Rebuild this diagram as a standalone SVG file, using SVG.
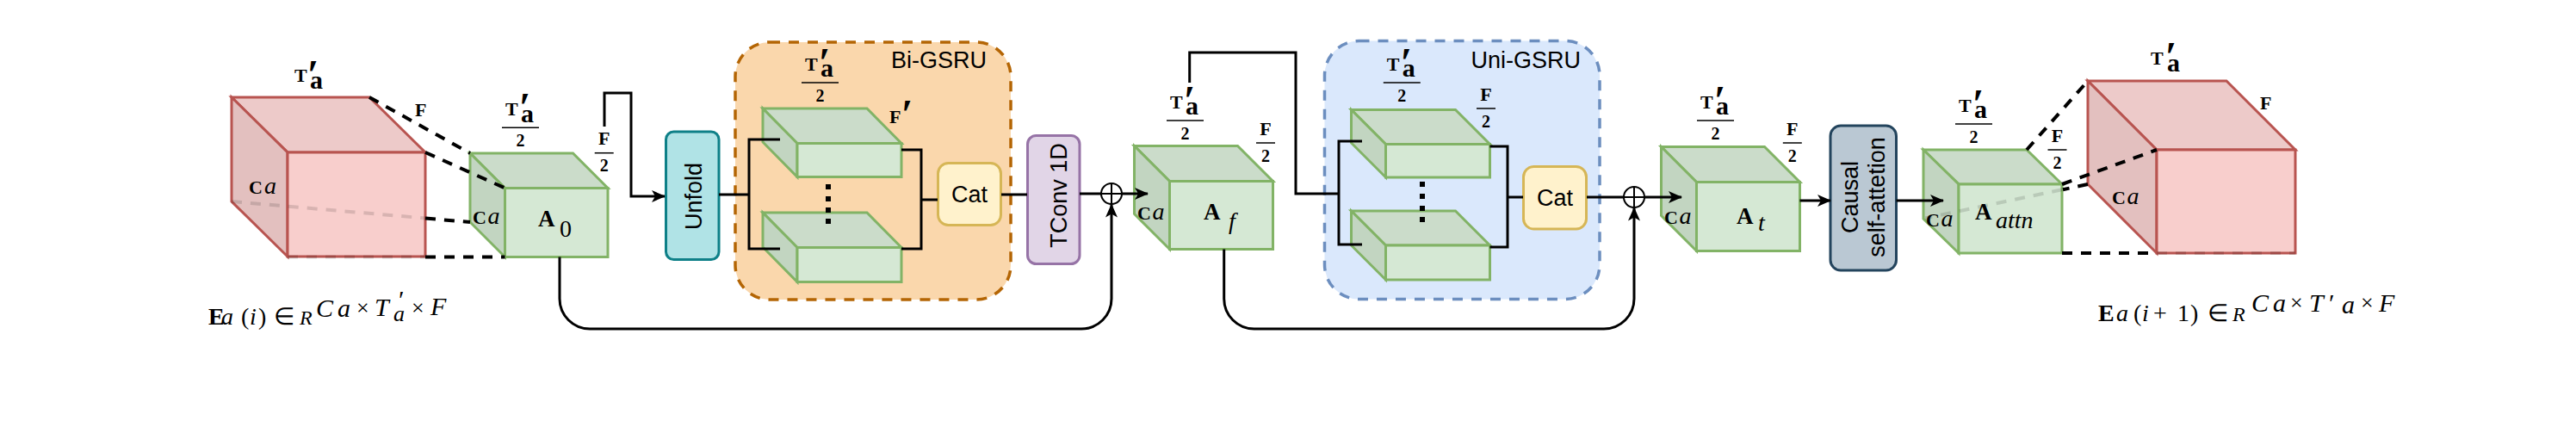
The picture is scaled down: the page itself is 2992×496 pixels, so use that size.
<svg xmlns="http://www.w3.org/2000/svg" width="2992" height="496" viewBox="0 0 2992 496">
<defs>
<style>
.gt{fill:#cbdcca;stroke:#82b366;stroke-width:3;stroke-linejoin:miter}
.gl{fill:#c2d5c1;stroke:#82b366;stroke-width:3}
.gf{fill:#d5e8d4;stroke:#82b366;stroke-width:3}
.rt{fill:#edcac9;stroke:#b85450;stroke-width:3}
.rl{fill:#e3c0bf;stroke:#b85450;stroke-width:3}
.rf{fill:#f8cecc;stroke:#b85450;stroke-width:3}
.m{font-family:"Liberation Serif","Times New Roman",serif;fill:#000}
.mb{font-family:"Liberation Serif","Times New Roman",serif;font-weight:bold;fill:#000}
.it{font-style:italic}
.pr{font-family:"Liberation Serif","DejaVu Serif",serif;font-weight:bold}
.lab{font-family:"Liberation Sans",Arial,Helvetica,sans-serif;font-size:27px;fill:#000}
.fl{stroke:#000;stroke-width:1.5}
.con{fill:none;stroke:#000;stroke-width:3}
.dash{fill:none;stroke:#000;stroke-width:4;stroke-dasharray:12 10}
.faint{fill:none;stroke:#000;stroke-opacity:0.13;stroke-width:4;stroke-dasharray:12 10}
.box{stroke-width:3}
</style>
<marker id="arr" markerUnits="userSpaceOnUse" markerWidth="16" markerHeight="14" viewBox="0 0 16 14" refX="15" refY="7" orient="auto"><path d="M0,0 L16,7 L0,14 L4,7 Z" fill="#000"/></marker>
</defs>
<rect x="0" y="0" width="2992" height="496" fill="#ffffff"/>

<!-- Containers -->
<g id="bi-gsru">
<rect x="854" y="49" width="320" height="299" rx="40" fill="#fad7ac" stroke="#b46504" stroke-width="3.5" stroke-dasharray="12 10"/>
<text class="lab" x="1146" y="79" text-anchor="end">Bi-GSRU</text>
</g>
<g id="uni-gsru">
<rect x="1538.5" y="47.5" width="319.5" height="300" rx="40" fill="#dae8fc" stroke="#6c8ebf" stroke-width="3.5" stroke-dasharray="12 10"/>
<text class="lab" x="1836" y="79" text-anchor="end">Uni-GSRU</text>
</g>

<!-- Left red tensor -->
<g id="ea-in">
<polygon class="rt" points="269,113 429,113 494,177 334,177"/>
<polygon class="rl" points="269,113 334,177 334,298 269,234"/>
<rect class="rf" x="334" y="177" width="160" height="121"/>
<text class="mb" x="342" y="95" font-size="22">T<tspan class="pr" x="357" y="102.6" font-size="48">′</tspan><tspan x="360" y="103" font-size="30">a</tspan></text>
<text class="mb" x="482" y="135" font-size="22">F</text>
<text class="mb" x="289" y="225" font-size="22">C<tspan class="m it" x="307" font-weight="normal" font-size="28">a</tspan></text>
<text class="m" y="377" font-size="28"><tspan x="242" font-weight="bold">E</tspan><tspan class="it" x="257">a</tspan><tspan x="280">(</tspan><tspan class="it" x="290">i</tspan><tspan x="300">)</tspan><tspan x="318">∈</tspan><tspan class="it" x="348" font-size="24">R</tspan><tspan class="it" x="367" y="368" font-size="30">C</tspan><tspan class="it" x="392" y="368" font-size="30">a</tspan><tspan x="414" y="366" font-size="26">×</tspan><tspan class="it" x="435" y="367" font-size="30">T</tspan><tspan x="463" y="358.4" font-size="30">′</tspan><tspan class="it" x="457" y="373" font-size="26">a</tspan><tspan x="478" y="366" font-size="26">×</tspan><tspan class="it" x="500" y="366" font-size="30">F</tspan></text>
</g>

<!-- A0 -->
<g id="a0">
<polygon class="gt" points="546,178 665.5,178 706,218.5 586.5,218.5"/>
<polygon class="gl" points="546,178 586.5,218.5 586.5,298.5 546,258"/>
<rect class="gf" x="586.5" y="218.5" width="119.5" height="80"/>
<text class="mb" x="625" y="263" font-size="27">A<tspan class="m" x="650" y="275" font-weight="normal" font-size="28">0</tspan></text>
<text class="mb" x="549" y="260" font-size="22">C<tspan class="m it" x="566.5" font-weight="normal" font-size="28">a</tspan></text>
<text class="mb" x="587" y="134" font-size="22">T<tspan class="pr" x="603" y="140.9" font-size="48">′</tspan><tspan x="605" y="141.7" font-size="30">a</tspan></text>
<line class="fl" x1="583" y1="148.3" x2="626" y2="148.3"/>
<text class="mb" x="604.5" y="170" font-size="20" text-anchor="middle">2</text>
<text class="mb" x="701.7" y="168.3" font-size="22" text-anchor="middle">F</text>
<line class="fl" x1="690.7" y1="177.7" x2="712.7" y2="177.7"/>
<text class="mb" x="701.7" y="199.3" font-size="20" text-anchor="middle">2</text>
</g>

<!-- Unfold -->
<g id="unfold">
<rect x="773.5" y="153" width="61.5" height="148.5" rx="9" fill="#b0e3e6" stroke="#0e8088" class="box"/>
<text class="lab" transform="translate(806,228) rotate(-90)" text-anchor="middle" dominant-baseline="central">Unfold</text>
</g>

<!-- Bi-GSRU inner -->
<g id="bi-cube-1">
<polygon class="gt" points="886,126 1007,126 1047,166.5 926,166.5"/>
<polygon class="gl" points="886,126 926,166.5 926,205.5 886,165"/>
<rect class="gf" x="926" y="166.5" width="121" height="39"/>
</g>
<g id="bi-cube-n">
<polygon class="gt" points="886,247 1007,247 1047,287.5 926,287.5"/>
<polygon class="gl" points="886,247 926,287.5 926,327.5 886,287"/>
<rect class="gf" x="926" y="287.5" width="121" height="40"/>
</g>
<g id="bi-labels">
<text class="mb" x="935" y="81.7" font-size="22">T<tspan class="pr" x="951" y="88.6" font-size="48">′</tspan><tspan x="953" y="89.4" font-size="30">a</tspan></text>
<line class="fl" x1="931" y1="96" x2="974" y2="96"/>
<text class="mb" x="952.5" y="117.7" font-size="20" text-anchor="middle">2</text>
<text class="mb" x="1033" y="143.3" font-size="22">F<tspan class="pr" x="1047" y="149" font-size="48">′</tspan></text>
<g fill="#000"><rect x="959" y="214" width="6" height="6"/><rect x="959" y="228" width="6" height="6"/><rect x="959" y="241" width="6" height="6"/><rect x="959" y="254" width="6" height="6"/></g>
</g>
<g id="cat-1">
<rect x="1089.5" y="189.5" width="73" height="72" rx="12" fill="#fff2cc" stroke="#d6b656" class="box"/>
<text class="lab" x="1126" y="226" text-anchor="middle" dominant-baseline="central">Cat</text>
</g>

<!-- TConv -->
<g id="tconv">
<rect x="1193.5" y="157.5" width="60.5" height="149" rx="10" fill="#e1d5e7" stroke="#9673a6" class="box"/>
<text class="lab" transform="translate(1230,227) rotate(-90)" text-anchor="middle" dominant-baseline="central">TConv 1D</text>
</g>

<g id="sum-1">
<circle cx="1291" cy="225" r="12" fill="#fff" stroke="#000" stroke-width="2"/>
<path d="M1279,225 H1303 M1291,213 V237" stroke="#000" stroke-width="2"/>
</g>

<!-- Af -->
<g id="af">
<polygon class="gt" points="1317.5,169.5 1437.5,169.5 1478.5,210.5 1358.5,210.5"/>
<polygon class="gl" points="1317.5,169.5 1358.5,210.5 1358.5,289.5 1317.5,248.5"/>
<rect class="gf" x="1358.5" y="210.5" width="120" height="79"/>
<text class="mb" x="1398" y="255" font-size="27">A<tspan class="m it" x="1427" y="266" font-weight="normal" font-size="28">f</tspan></text>
<text class="mb" x="1321" y="255" font-size="22">C<tspan class="m it" x="1338.5" font-weight="normal" font-size="28">a</tspan></text>
<text class="mb" x="1359" y="125.7" font-size="22">T<tspan class="pr" x="1375" y="132.6" font-size="48">′</tspan><tspan x="1377" y="133.4" font-size="30">a</tspan></text>
<line class="fl" x1="1355" y1="140" x2="1398" y2="140"/>
<text class="mb" x="1376.5" y="161.7" font-size="20" text-anchor="middle">2</text>
<text class="mb" x="1470" y="156.6" font-size="22" text-anchor="middle">F</text>
<line class="fl" x1="1459" y1="166" x2="1481" y2="166"/>
<text class="mb" x="1470" y="187.6" font-size="20" text-anchor="middle">2</text>
</g>

<!-- Uni inner -->
<g id="uni-cube-1">
<polygon class="gt" points="1569.5,127.5 1690.5,127.5 1730.5,167.5 1609.5,167.5"/>
<polygon class="gl" points="1569.5,127.5 1609.5,167.5 1609.5,206 1569.5,166"/>
<rect class="gf" x="1609.5" y="167.5" width="121" height="38.5"/>
</g>
<g id="uni-cube-n">
<polygon class="gt" points="1569.5,245 1690.5,245 1730.5,285 1609.5,285"/>
<polygon class="gl" points="1569.5,245 1609.5,285 1609.5,325 1569.5,285"/>
<rect class="gf" x="1609.5" y="285" width="121" height="40"/>
</g>
<g id="uni-labels">
<text class="mb" x="1610.8" y="81.7" font-size="22">T<tspan class="pr" x="1626.8" y="88.6" font-size="48">′</tspan><tspan x="1628.8" y="89.4" font-size="30">a</tspan></text>
<line class="fl" x1="1606.8" y1="96" x2="1649.8" y2="96"/>
<text class="mb" x="1628.3" y="117.7" font-size="20" text-anchor="middle">2</text>
<text class="mb" x="1726" y="116.6" font-size="22" text-anchor="middle">F</text>
<line class="fl" x1="1715" y1="126" x2="1737" y2="126"/>
<text class="mb" x="1726" y="147.6" font-size="20" text-anchor="middle">2</text>
<g fill="#000"><rect x="1649" y="211" width="6" height="6"/><rect x="1649" y="225" width="6" height="6"/><rect x="1649" y="239" width="6" height="6"/><rect x="1649" y="252" width="6" height="6"/></g>
</g>
<g id="cat-2">
<rect x="1769.5" y="193.5" width="73" height="72.5" rx="12" fill="#fff2cc" stroke="#d6b656" class="box"/>
<text class="lab" x="1806" y="230" text-anchor="middle" dominant-baseline="central">Cat</text>
</g>

<g id="sum-2">
<circle cx="1898" cy="229" r="12" fill="#fff" stroke="#000" stroke-width="2"/>
<path d="M1886,229 H1910 M1898,217 V241" stroke="#000" stroke-width="2"/>
</g>

<!-- At -->
<g id="at">
<polygon class="gt" points="1929.5,170.5 2049.5,170.5 2090.5,211.5 1970.5,211.5"/>
<polygon class="gl" points="1929.5,170.5 1970.5,211.5 1970.5,291.5 1929.5,250.5"/>
<rect class="gf" x="1970.5" y="211.5" width="120" height="80"/>
<text class="mb" x="2017" y="260" font-size="27">A<tspan class="m it" x="2042" y="268.3" font-weight="normal" font-size="28">t</tspan></text>
<text class="mb" x="1933" y="260" font-size="22">C<tspan class="m it" x="1950.5" font-weight="normal" font-size="28">a</tspan></text>
<text class="mb" x="1975" y="125.7" font-size="22">T<tspan class="pr" x="1991" y="132.6" font-size="48">′</tspan><tspan x="1993" y="133.4" font-size="30">a</tspan></text>
<line class="fl" x1="1971" y1="140" x2="2014" y2="140"/>
<text class="mb" x="1992.5" y="161.7" font-size="20" text-anchor="middle">2</text>
<text class="mb" x="2081.8" y="156.6" font-size="22" text-anchor="middle">F</text>
<line class="fl" x1="2070.8" y1="166" x2="2092.8" y2="166"/>
<text class="mb" x="2081.8" y="187.6" font-size="20" text-anchor="middle">2</text>
</g>

<!-- Causal self-attention -->
<g id="causal">
<rect x="2126" y="146" width="76.5" height="168" rx="12" fill="#bac8d3" stroke="#23445d" class="box"/>
<text class="lab" transform="translate(2164,229) rotate(-90)" text-anchor="middle"><tspan x="0" y="-6">Causal</tspan><tspan x="0" y="25">self-attetion</tspan></text>
</g>

<!-- Aattn -->
<g id="aattn">
<polygon class="gt" points="2234,174 2354,174 2395,214 2275,214"/>
<polygon class="gl" points="2234,174 2275,214 2275,294 2234,254"/>
<rect class="gf" x="2275" y="214" width="120" height="80"/>
<text class="mb" x="2294" y="255" font-size="27">A<tspan class="m it" x="2318" y="265" font-weight="normal" font-size="28">attn</tspan></text>
<text class="mb" x="2237" y="262.7" font-size="22">C<tspan class="m it" x="2254.5" font-weight="normal" font-size="28">a</tspan></text>
<text class="mb" x="2275" y="129.7" font-size="22">T<tspan class="pr" x="2291" y="136.6" font-size="48">′</tspan><tspan x="2293" y="137.4" font-size="30">a</tspan></text>
<line class="fl" x1="2271" y1="144" x2="2314" y2="144"/>
<text class="mb" x="2292.5" y="165.7" font-size="20" text-anchor="middle">2</text>
<text class="mb" x="2389.5" y="164.6" font-size="22" text-anchor="middle">F</text>
<line class="fl" x1="2378.5" y1="174" x2="2400.5" y2="174"/>
<text class="mb" x="2389.5" y="195.6" font-size="20" text-anchor="middle">2</text>
</g>

<!-- Right red tensor -->
<g id="ea-out">
<polygon class="rt" points="2425,94 2586,94 2666,174 2505,174"/>
<polygon class="rl" points="2425,94 2505,174 2505,294 2425,214"/>
<rect class="rf" x="2505" y="174" width="161" height="120"/>
<text class="mb" x="2498" y="75" font-size="22">T<tspan class="pr" x="2515" y="81.6" font-size="48">′</tspan><tspan x="2517" y="83" font-size="30">a</tspan></text>
<text class="mb" x="2625" y="127.3" font-size="22">F</text>
<text class="mb" x="2453" y="236.7" font-size="22">C<tspan class="m it" x="2470.5" font-weight="normal" font-size="28">a</tspan></text>
<text class="m" y="373.3" font-size="28"><tspan x="2437" font-weight="bold">E</tspan><tspan class="it" x="2458">a</tspan><tspan x="2478">(</tspan><tspan class="it" x="2488">i</tspan><tspan x="2501">+</tspan><tspan x="2529">1</tspan><tspan x="2544">)</tspan><tspan x="2564">∈</tspan><tspan class="it" x="2593" font-size="24">R</tspan><tspan class="it" x="2615" y="362" font-size="30">C</tspan><tspan class="it" x="2640" y="362" font-size="30">a</tspan><tspan x="2660" y="360" font-size="26">×</tspan><tspan class="it" x="2682" y="362" font-size="30">T</tspan><tspan x="2705" y="362" font-size="30">′</tspan><tspan class="it" x="2720" y="364" font-size="30">a</tspan><tspan x="2742" y="360" font-size="26">×</tspan><tspan class="it" x="2763" y="362" font-size="30">F</tspan></text>
</g>

<!-- Connectors -->
<g id="connectors">
<path class="dash" d="M429,113 L546,178"/>
<path class="dash" d="M494,177 L586.5,218.5"/>
<path class="dash" d="M494,253.5 L546,258"/>
<path class="faint" d="M269,234 L494,253.5"/>
<path class="dash" d="M494,298.5 L586.5,298.5"/>
<path class="faint" d="M334,298.5 L494,298.5"/>

<path class="con" d="M702,147 V108 H733 V228 H772" marker-end="url(#arr)"/>
<path class="con" d="M835,226 H870"/>
<path class="con" d="M906,162 H870 V289 H906"/>
<path class="con" d="M1047,174 H1070 V289 H1047"/>
<path class="con" d="M1070,232 H1089"/>
<path class="con" d="M1163,226 H1193"/>
<path class="con" d="M1254,225 H1279"/>
<path class="con" d="M1303,225 H1333" marker-end="url(#arr)"/>
<path class="con" d="M650,298.5 V347 A35,35 0 0 0 685,382 H1256 A35,35 0 0 0 1291,347 V237.5" marker-end="url(#arr)"/>

<path class="con" d="M1381.7,96 V61 H1505 V225 H1555"/>
<path class="con" d="M1582,164 H1555 V284 H1582"/>
<path class="con" d="M1730.5,170 H1751 V287 H1730.5"/>
<path class="con" d="M1751,229 H1769"/>
<path class="con" d="M1843,229 H1886"/>
<path class="con" d="M1910,229 H1953" marker-end="url(#arr)"/>
<path class="con" d="M1421.7,289.5 V347 A35,35 0 0 0 1456.7,382 H1863 A35,35 0 0 0 1898,347 V241.5" marker-end="url(#arr)"/>
<path class="con" d="M2090.5,233 H2126" marker-end="url(#arr)"/>
<path class="con" d="M2202.5,233 H2257" marker-end="url(#arr)"/>

<path class="dash" d="M2354,174 L2425,94"/>
<path class="dash" d="M2395,214 L2505,174"/>
<path class="dash" d="M2425,214 L2396,220.3"/>
<path class="faint" d="M2395,220.3 L2236,253.5"/>
<path class="dash" d="M2395,294 L2505,294"/>
<path class="faint" d="M2505,294 L2666,294"/>
</g>
</svg>
